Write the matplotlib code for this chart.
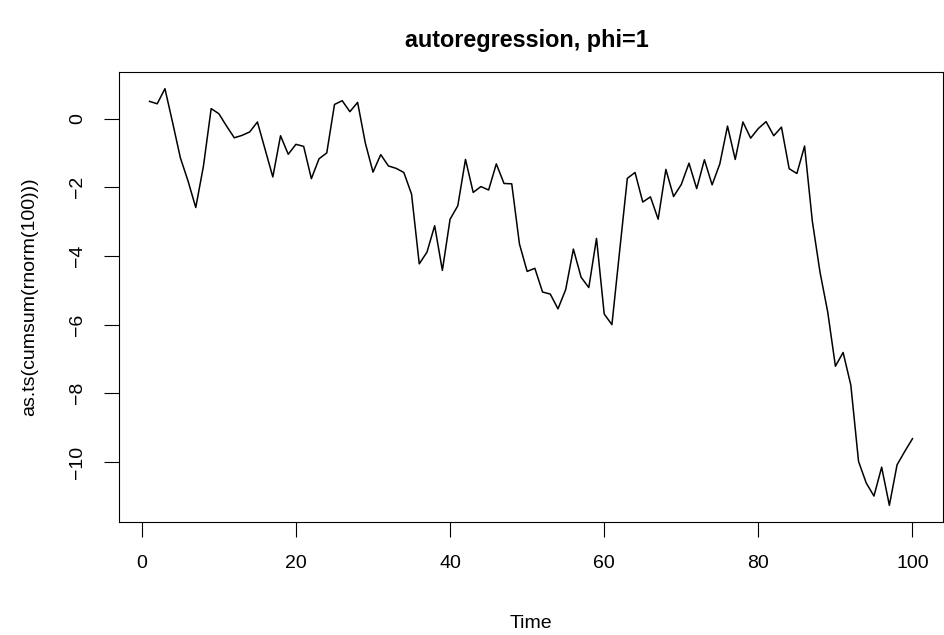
import numpy as np
import matplotlib
matplotlib.use("Agg")
import matplotlib.pyplot as plt

# random walk values, t = 1..100
time = list(range(1, 101))
walk = [0.50, 0.43, 0.87, -0.12, -1.14, -1.82, -2.59, -1.38, 0.29, 0.14,
        -0.22, -0.56, -0.49, -0.39, -0.10, -0.90, -1.70, -0.50, -1.04, -0.75,
        -0.81, -1.75, -1.17, -1.00, 0.41, 0.52, 0.20, 0.47, -0.71, -1.56,
        -1.05, -1.38, -1.45, -1.57, -2.20, -4.23, -3.89, -3.12, -4.42, -2.93,
        -2.54, -1.19, -2.15, -1.98, -2.08, -1.32, -1.89, -1.90, -3.65, -4.45,
        -4.36, -5.05, -5.11, -5.54, -4.98, -3.80, -4.62, -4.92, -3.49, -5.69,
        -6.00, -3.86, -1.74, -1.57, -2.43, -2.28, -2.93, -1.48, -2.27, -1.92,
        -1.30, -2.04, -1.20, -1.93, -1.32, -0.22, -1.19, -0.10, -0.57, -0.29,
        -0.09, -0.50, -0.25, -1.46, -1.60, -0.80, -2.98, -4.47, -5.63, -7.21,
        -6.81, -7.76, -9.98, -10.61, -10.99, -10.15, -11.26, -10.08, -9.69, -9.32]

xticks = [0, 20, 40, 60, 80, 100]
yticks = [0, -2, -4, -6, -8, -10]

plt.rcParams['font.family'] = ['Liberation Sans', 'DejaVu Sans']
plt.rcParams['font.size'] = 14

fig = plt.figure(figsize=(9.45, 6.35), dpi=100)
ax = fig.add_axes([119/945, 1-522/635, (943-119)/945, 450/635])

ax.plot(time, walk, color='black', lw=1.1)

# R style 4% padding
xr = max(time) - min(time)
yr = max(walk) - min(walk)
ax.set_xlim(min(time) - 0.04*xr, max(time) + 0.04*xr)
ax.set_ylim(min(walk) - 0.04*yr, max(walk) + 0.04*yr)

ax.set_xticks(xticks)
ax.set_yticks(yticks)
ax.set_yticklabels([str(v).replace('-', '\u2212') for v in yticks], rotation=90, va='center')
ax.tick_params(direction='out', length=10.5, width=0.8, color='black')
ax.tick_params(axis='x', pad=13)
ax.tick_params(axis='y', pad=13)
for s in ax.spines.values():
    s.set_linewidth(0.8)

fig.text(531/945, 1-624/635, 'Time', ha='center', va='center', fontsize=14)
fig.text(30/945, 1-297/635, 'as.ts(cumsum(rnorm(100)))', ha='center', va='center',
         rotation=90, fontsize=14)
fig.text(527/945, 1-40/635, 'autoregression, phi=1', ha='center', va='center',
         fontsize=16.8, fontweight='bold')

plt.savefig('out.png', dpi=100)
